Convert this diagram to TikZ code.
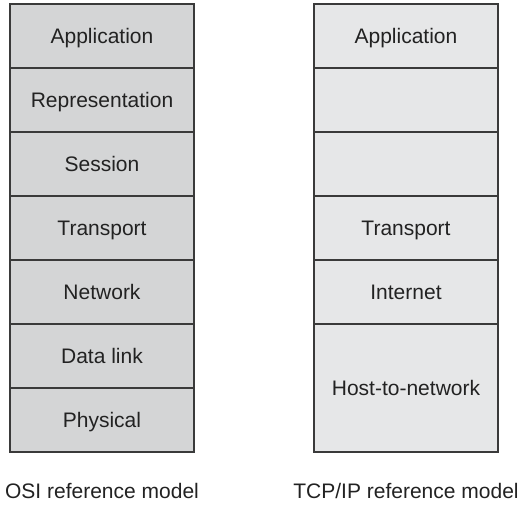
\documentclass[tikz,border=0pt]{standalone}
\usepackage{fontspec}
\setmainfont{Liberation Sans}
\definecolor{osifill}{HTML}{D4D5D6}
\definecolor{tcpfill}{HTML}{E6E7E8}
\definecolor{edge}{HTML}{3A3A3A}
\definecolor{ink}{HTML}{222222}
\begin{document}
\begin{tikzpicture}[x=1pt,y=-1pt,
  layer/.style={draw=edge, line width=1.3pt, minimum width=184pt,
    minimum height=64pt, inner sep=0pt, text=ink,
    text height=15pt, text depth=0pt,
    font=\fontsize{21}{25}\selectfont},
  osilayer/.style={layer, fill=osifill},
  tcplayer/.style={layer, fill=tcpfill},
  caption/.style={text=ink, inner sep=0pt, text height=15pt, text depth=0pt,
    font=\fontsize{21}{25}\selectfont}]
\useasboundingbox (0,0) rectangle (520,511);
% OSI stack
\node[osilayer] (oapp)  at (102,36)  {Application};
\node[osilayer] (orep)  at (102,100) {Representation};
\node[osilayer] (osess) at (102,164) {Session};
\node[osilayer] (otran) at (102,228) {Transport};
\node[osilayer] (onet)  at (102,292) {Network};
\node[osilayer] (olink) at (102,356) {Data link};
\node[osilayer] (ophys) at (102,420) {Physical};
% TCP/IP stack
\node[tcplayer] (tapp)  at (406,36)  {Application};
\node[tcplayer] (tgap1) at (406,100) {};
\node[tcplayer] (tgap2) at (406,164) {};
\node[tcplayer] (ttran) at (406,228) {Transport};
\node[tcplayer] (tinet) at (406,292) {Internet};
\node[tcplayer, minimum height=128pt] (thost) at (406,388) {Host-to-network};
% captions
\node[caption] (ocap) at (102,491) {OSI reference model};
\node[caption] (tcap) at (406,491) {TCP/IP reference model};
\end{tikzpicture}
\end{document}
